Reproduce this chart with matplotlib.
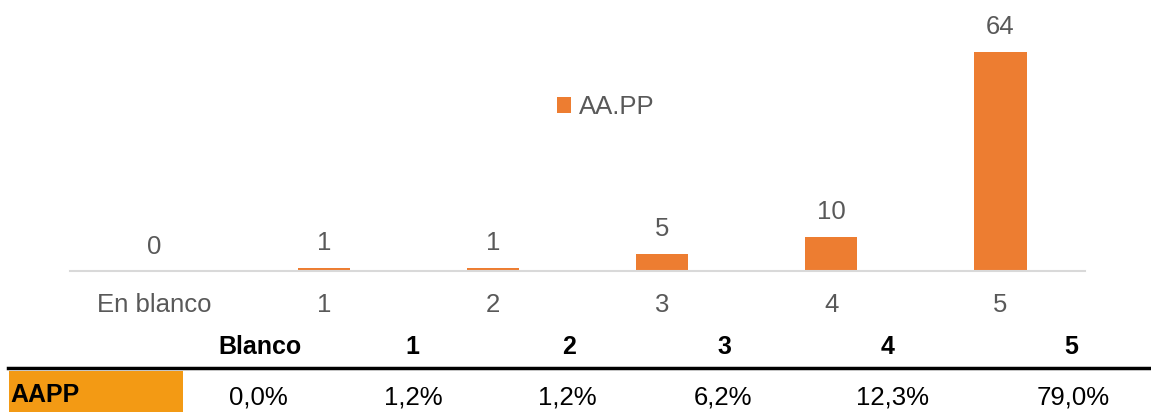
import matplotlib
matplotlib.use("Agg")
import matplotlib.pyplot as plt
from matplotlib.patches import Rectangle
from matplotlib.lines import Line2D

plt.rcParams['font.family'] = ['Liberation Sans', 'DejaVu Sans']

categories = ["En blanco", "1", "2", "3", "4", "5"]
values = [0, 1, 1, 5, 10, 64]
series_name = "AA.PP"

table_header = ["Blanco", "1", "2", "3", "4", "5"]
table_row_label = "AAPP"
table_values = ["0,0%", "1,2%", "1,2%", "6,2%", "12,3%", "79,0%"]

W, H = 1151, 412
fig = plt.figure(figsize=(W / 100, H / 100), dpi=100)

bar_color = "#ED7D31"
text_gray = "#595959"
fs = 18.5

ax = fig.add_axes([70 / W, (H - 271) / H, (1085 - 70) / W, 240 / H])
x = list(range(len(categories)))
bars = ax.bar(x, values, width=0.31, color=bar_color, label=series_name)
ax.bar_label(bars, labels=[str(v) for v in values], padding=9, fontsize=fs, color=text_gray)
ax.set_xlim(-0.5, len(categories) - 0.5)
ax.set_ylim(0, 70)
ax.set_yticks([])
ax.set_xticks(x)
ax.set_xticklabels(categories, fontsize=fs, color=text_gray)
ax.tick_params(axis='x', length=0, pad=16)
for s in ["top", "right", "left"]:
    ax.spines[s].set_visible(False)
ax.spines["bottom"].set_color("#D9D9D9")
ax.spines["bottom"].set_linewidth(1.5)
ax.patch.set_alpha(0)

leg = ax.legend(loc="center", bbox_to_anchor=((606 - 70) / (1085 - 70), (271 - 107) / 240),
                frameon=False, fontsize=fs, handlelength=0.55, handleheight=0.55,
                handletextpad=0.3, labelcolor=text_gray)

# table below
header_x = [260, 412, 569, 724, 888, 1071]
value_x = [258, 413, 567, 723, 892, 1073]
for hx, h in zip(header_x, table_header):
    fig.text(hx / W, (H - 347) / H, h, ha="center", va="center", fontsize=18,
             fontweight="bold", color="black")
fig.add_artist(Line2D([8 / W, 1.0], [(H - 367.5) / H] * 2, color="black", lw=2.5,
                      transform=fig.transFigure))
fig.add_artist(Rectangle((9 / W, 0), (183 - 9) / W, (412 - 370.5) / H,
                         facecolor="#F39A14", edgecolor="none", transform=fig.transFigure))
fig.text(10 / W, (H - 395) / H, table_row_label, ha="left", va="center", fontsize=18,
         fontweight="bold", color="black")
for vx, v in zip(value_x, table_values):
    fig.text(vx / W, (H - 397) / H, v, ha="center", va="center", fontsize=fs, color="black")

fig.savefig("out.png", dpi=100)
